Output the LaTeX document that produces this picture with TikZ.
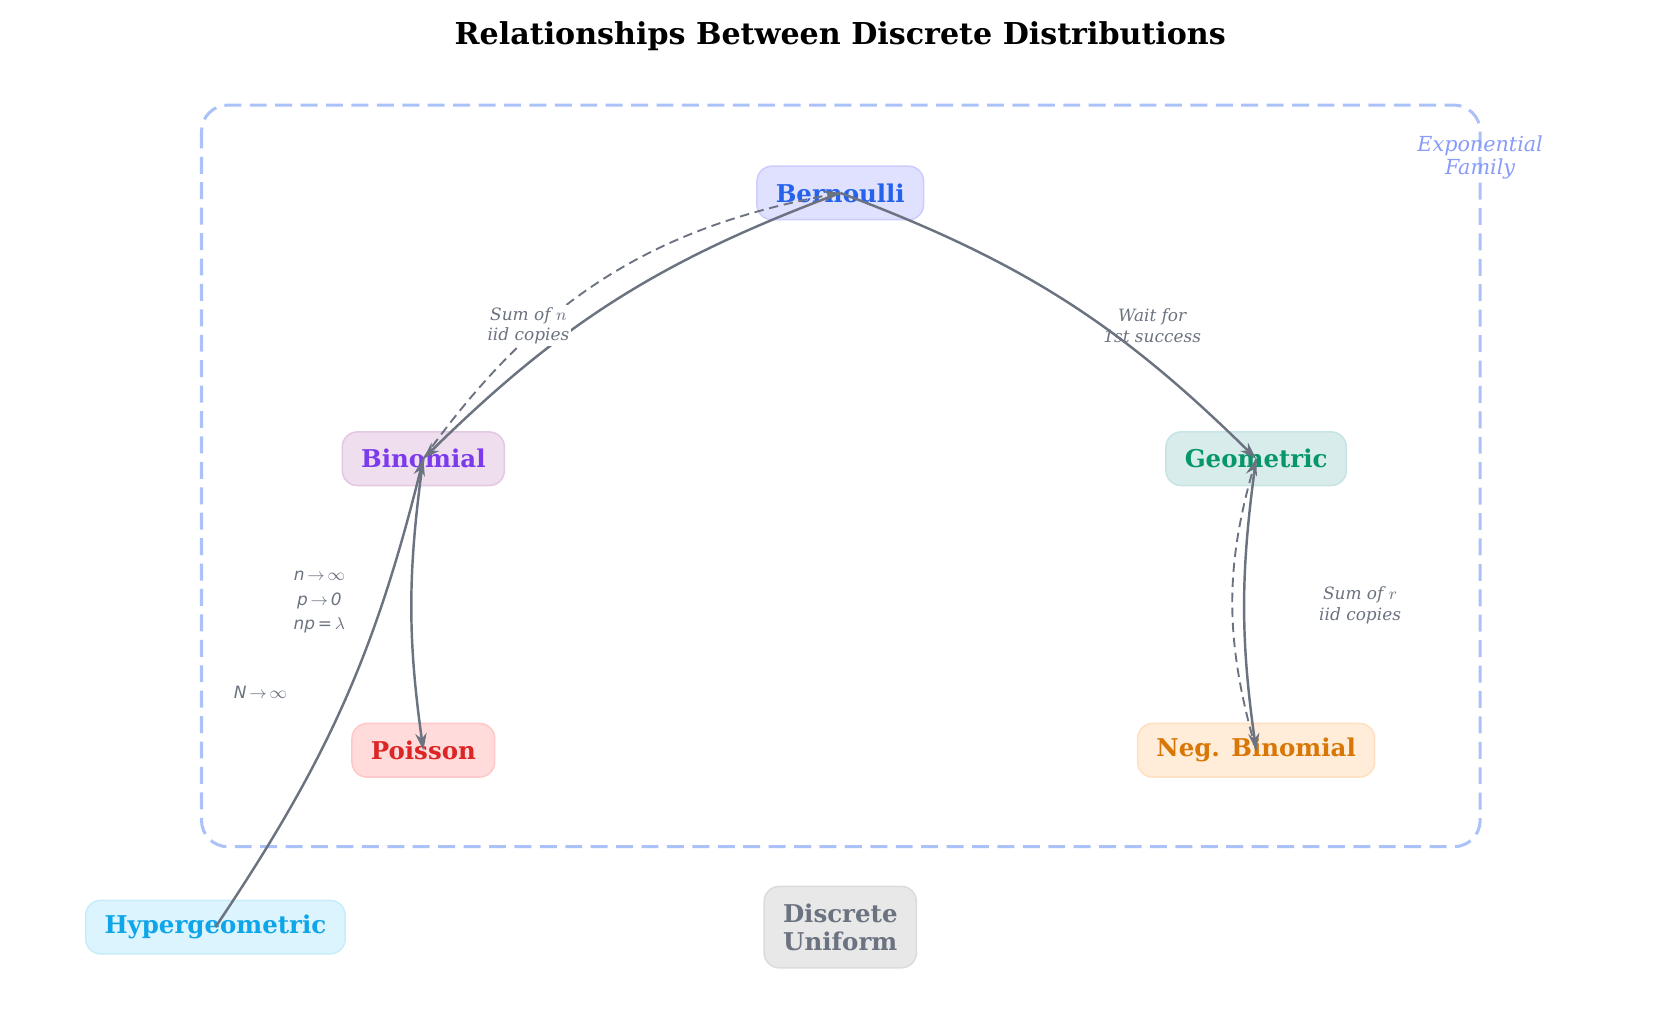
\documentclass[tikz,border=0pt]{standalone}
\usepackage{fontspec}
\setmainfont{DejaVu Serif}
\newfontfamily\labfont{DejaVu Sans}
\usepackage{tikz}
\usetikzlibrary{arrows.meta}
\definecolor{edgegray}{HTML}{6B7280}
\definecolor{boxblue}{HTML}{AAC2F7}
\tikzstyle{arrow} = [-{Stealth[length=9pt,width=6pt]},line width=1.3pt,edgegray]
\tikzstyle{darrow} = [arrow,line width=1pt,dash pattern=on 5pt off 3pt]
\tikzstyle{dist} = [draw,rounded corners=8pt,line width=0.8pt,minimum height=1cm,font=\fontsize{13}{15}\selectfont\bfseries,align=center,inner xsep=10pt]
\tikzstyle{note} = [font=\fontsize{9}{11}\selectfont\itshape,text=edgegray,align=center]

\begin{document}
\begin{tikzpicture}[x=0.02cm,y=-0.02cm]
      \useasboundingbox (0,0) rectangle (1560,964);
      \node[font=\fontsize{16}{18}\selectfont\bfseries] (title) at (784,34) {Relationships Between Discrete Distributions};

      % exponential family box
      \draw[boxblue,line width=1.6pt,dash pattern=on 9pt off 4.5pt,rounded corners=14pt] (188,98) rectangle (1381,790);
      \node[note,text=boxblue!80!blue,font=\fontsize{11}{12}\selectfont\itshape] (exp) at (1381,147) {Exponential\\Family};

      \node[dist,fill=blue!12,draw=blue!20,text={rgb,255:red,37;green,99;blue,235},minimum width=3cm] (bern) at (784,180) {Bernoulli};
      \node[dist,fill=violet!13,draw=violet!22,text={rgb,255:red,124;green,58;blue,237},minimum width=2.92cm] (bin) at (395,428) {Binomial};
      \node[dist,fill=teal!15,draw=teal!22,text={rgb,255:red,5;green,150;blue,105},minimum width=3.28cm] (geo) at (1172,428) {Geometric};
      \node[dist,fill=red!14,draw=red!22,text={rgb,255:red,220;green,38;blue,38},minimum width=2.56cm] (poi) at (395,700) {Poisson};
      \node[dist,fill=orange!15,draw=orange!25,text={rgb,255:red,217;green,119;blue,6},minimum width=4.32cm] (nbin) at (1172,700) {Neg. Binomial};
      \node[dist,fill=cyan!14,draw=cyan!22,text={rgb,255:red,14;green,165;blue,233},minimum width=4.8cm] (hyp) at (201,865) {Hypergeometric};
      \node[dist,fill=gray!18,draw=gray!28,text=edgegray,minimum width=2.76cm,minimum height=1.52cm] (unif) at (784,865) {Discrete\\Uniform};

      \draw[arrow] (bern.center) to[bend right=12] (bin.center);
      \draw[darrow] (bin.center) to[bend left=22] (bern.center);
      \draw[arrow] (bern.center) to[bend left=12] (geo.center);
      \draw[arrow] (geo.center) to[bend right=8] (nbin.center);
      \draw[darrow] (nbin.center) to[bend left=16] (geo.center);
      \draw[arrow] (bin.center) to[bend right=8] (poi.center);
      \draw[arrow] (hyp.center) to[bend right=10] (bin.center);

      \node[note,fill=white,inner sep=1pt] (l1) at (493,304) {Sum of $n$\\iid copies};
      \node[note] (l2) at (1075,304) {Wait for\\1st success};
      \node[note] (l3) at (1269,565) {Sum of $r$\\iid copies};
      \node[note,font=\fontsize{9}{13}\selectfont\labfont\itshape] (l4) at (298,562) {n\,$\rightarrow$\,$\infty$\\p\,$\rightarrow$\,0\\np\,=\,$\lambda$};
      \node[note,font=\fontsize{9}{11}\selectfont\labfont\itshape] (l5) at (243,646) {N\,$\rightarrow$\,$\infty$};
\end{tikzpicture}
\end{document}
